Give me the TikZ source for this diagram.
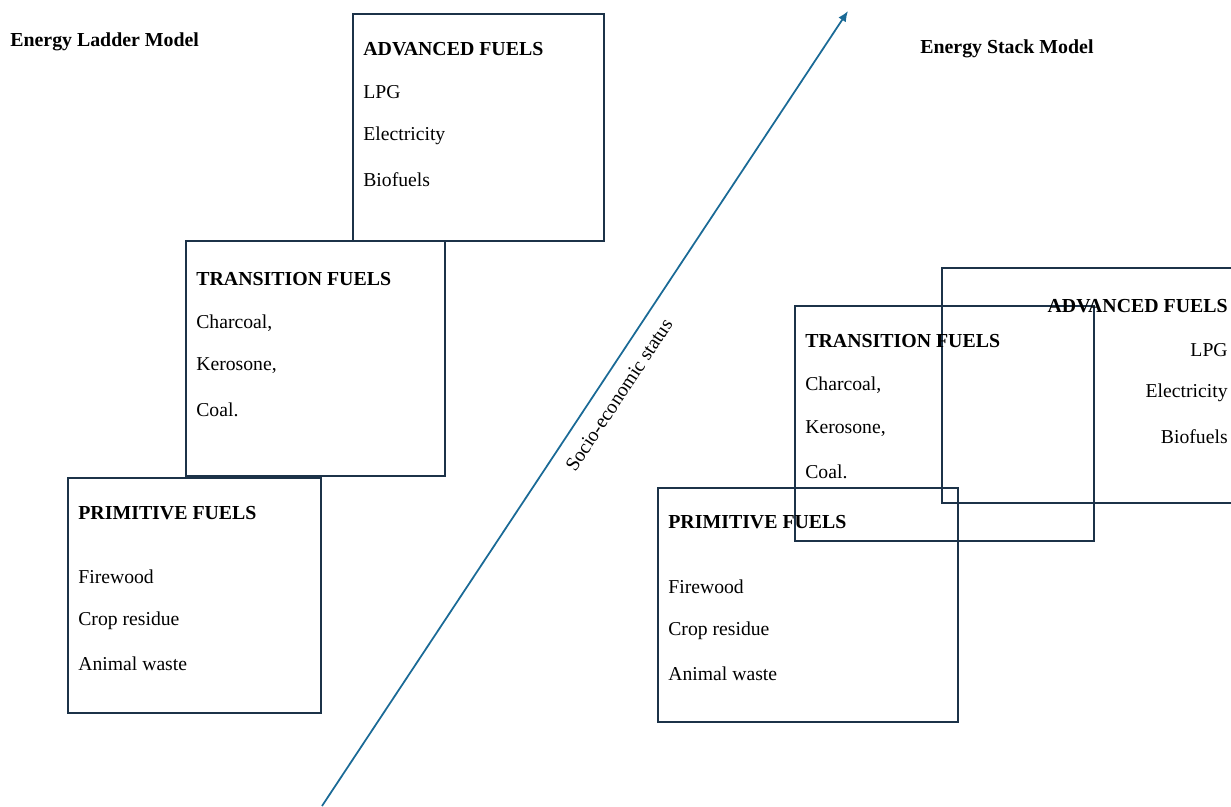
\documentclass[tikz,border=0pt]{standalone}
\usepackage{fontspec}
\setmainfont{Liberation Serif}
\usetikzlibrary{arrows.meta}
\definecolor{boxnavy}{HTML}{1C3248}
\definecolor{arrowblue}{HTML}{1A6A96}
\begin{document}
\begin{tikzpicture}[x=0.02cm,y=-0.02cm]
	\tikzstyle{every node}=[font=\fontsize{11.2}{13}\selectfont, inner sep=0pt]
	\tikzstyle{fuelbox}=[draw=boxnavy, line width=1.1pt]
	\tikzstyle{head}=[anchor=west, font=\fontsize{11.3}{13}\selectfont\bfseries]
	\tikzstyle{item}=[anchor=west]
	\tikzstyle{itemr}=[anchor=east]
	\useasboundingbox (0,0) rectangle (1231,806);
	\clip (0,0) rectangle (1231,806);
	% status arrow
	\coordinate (low) at (322,806);
	\coordinate (high) at (848,11);
	\draw[arrowblue, line width=1pt, -{Latex[length=6pt,width=5pt]}] (low) -- (high);
	\node[rotate=56.5] (status) at (619,395) {Socio-economic status};
	% ladder model
	\node[head] (ladder) at (10,42) {Energy Ladder Model};
	\draw[fuelbox] (353,14) rectangle (604,241);
	\draw[fuelbox] (186,241) rectangle (445,476);
	\draw[fuelbox] (68,478) rectangle (321,713);
	\node[head] (advL) at (363,49) {ADVANCED FUELS};
	\node[item] (lpgL) at (363,92) {LPG};
	\node[item] (elecL) at (363,136) {Electricity};
	\node[item] (bioL) at (363,180) {Biofuels};
	\node[head] (transL) at (196,279) {TRANSITION FUELS};
	\node[item] (charL) at (196,323) {Charcoal,};
	\node[item] (keroL) at (196,366) {Kerosone,};
	\node[item] (coalL) at (196,410) {Coal.};
	\node[head] (primL) at (78,513) {PRIMITIVE FUELS};
	\node[item] (woodL) at (78,577) {Firewood};
	\node[item] (cropL) at (78,621) {Crop residue};
	\node[item] (animL) at (78,664) {Animal waste};
	% stack model
	\node[head] (stack) at (920,49) {Energy Stack Model};
	\draw[fuelbox] (942,268) rectangle (1240,503);
	\draw[fuelbox] (795,306) rectangle (1094,541);
	\draw[fuelbox] (658,488) rectangle (958,722);
	\node[head, anchor=east] (advS) at (1228,306) {ADVANCED FUELS};
	\node[itemr] (lpgS) at (1228,350) {LPG};
	\node[itemr] (elecS) at (1228,393) {Electricity};
	\node[itemr] (bioS) at (1228,437) {Biofuels};
	\node[head] (transS) at (805,341) {TRANSITION FUELS};
	\node[item] (charS) at (805,385) {Charcoal,};
	\node[item] (keroS) at (805,429) {Kerosone,};
	\node[item] (coalS) at (805,472) {Coal.};
	\node[head] (primS) at (668,522) {PRIMITIVE FUELS};
	\node[item] (woodS) at (668,587) {Firewood};
	\node[item] (cropS) at (668,631) {Crop residue};
	\node[item] (animS) at (668,674) {Animal waste};
\end{tikzpicture}
\end{document}
